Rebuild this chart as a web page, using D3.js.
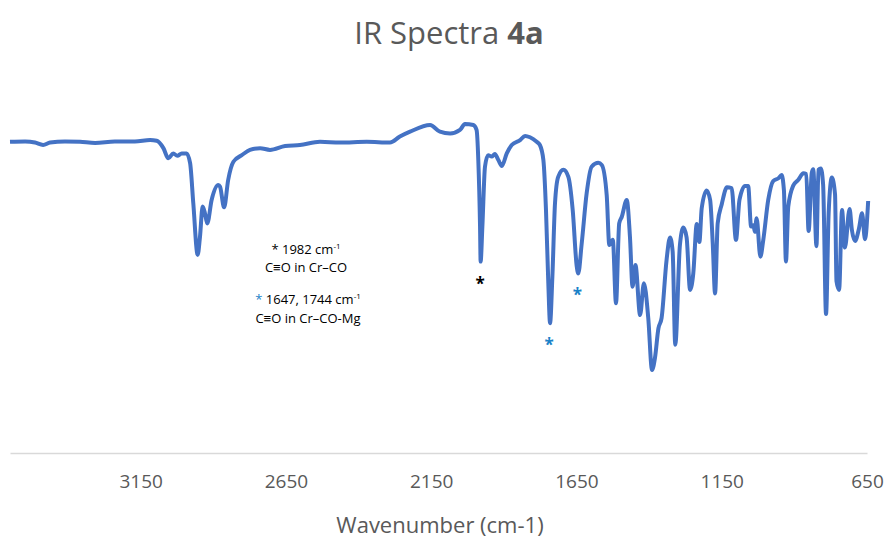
<!DOCTYPE html>
<html>
<head>
<meta charset="utf-8"/>
<title>IR Spectra 4a</title>
<script src="https://cdn.jsdelivr.net/npm/d3@7"></script>
<style>
html, body {
    margin: 0;
    padding: 0;
    background: #ffffff;
}
svg text {
    font-family: "Open Sans", "Noto Sans", sans-serif;
}
</style>
</head>
<body>

<svg id="chart"></svg>

<script>

// Spectrum: wavenumber (cm-1) and transmittance (arb. %)
var wavenumber = [
    3600, 3548, 3514, 3486, 3462, 3411, 3359, 3307, 3239, 3170,
    3118, 3095, 3072, 3055, 3038, 3024, 3009, 2992, 2980, 2969,
    2954, 2946, 2937, 2929, 2921, 2906, 2883, 2877, 2863, 2849,
    2831, 2802, 2774, 2739, 2705, 2653, 2602, 2533, 2464, 2372,
    2292, 2258, 2223, 2154, 2120, 2085, 2051, 2034, 2005, 1994,
    1988, 1982, 1980, 1974, 1965, 1954, 1942, 1931, 1919, 1907,
    1890, 1873, 1844, 1827, 1810, 1787, 1776, 1764, 1755, 1747,
    1741, 1733, 1724, 1713, 1695, 1678, 1663, 1649, 1644, 1632,
    1615, 1598, 1575, 1563, 1546, 1537, 1525, 1514, 1503, 1494,
    1477, 1466, 1457, 1447, 1431, 1418, 1403, 1390, 1380, 1368,
    1357, 1340, 1328, 1319, 1310, 1294, 1282, 1271, 1259, 1248,
    1236, 1227, 1219, 1202, 1190, 1181, 1173, 1164, 1150, 1132,
    1116, 1101, 1089, 1070, 1059, 1049, 1041, 1036, 1030, 1017,
    1007, 990, 973, 955, 944, 936, 929, 921, 904, 887,
    869, 859, 851, 840, 835, 824, 817, 809, 801, 791,
    782, 771, 760, 755, 746, 736, 726, 710, 702, 691,
    678, 667, 657, 646
];
var transmittance = [
    88.9, 89.0, 88.7, 88.0, 88.7, 89.0, 88.9, 88.6, 89.0, 89.0,
    89.4, 89.2, 87.1, 84.2, 85.6, 84.9, 85.6, 85.6, 82.8, 71.3,
    56.6, 61.8, 70.4, 68.5, 65.6, 72.3, 76.6, 76.1, 70.2, 78.0,
    83.2, 85.1, 86.6, 87.1, 86.6, 87.7, 88.0, 88.9, 88.7, 88.9,
    88.7, 90.4, 91.8, 93.7, 91.8, 91.3, 92.3, 94.0, 93.7, 92.3,
    83.7, 64.7, 54.7, 64.7, 81.8, 85.1, 84.7, 85.4, 83.7, 82.0,
    85.6, 88.0, 89.4, 90.6, 90.2, 88.9, 88.0, 83.7, 69.4, 48.5,
    37.1, 50.4, 71.3, 78.9, 80.9, 78.9, 69.4, 53.2, 51.3, 59.9,
    74.2, 81.8, 82.9, 82.3, 73.7, 59.4, 60.9, 42.8, 65.6, 67.5,
    72.3, 61.8, 47.5, 53.7, 39.4, 48.5, 38.6, 23.7, 27.1, 35.6,
    38.6, 55.1, 61.6, 57.6, 30.9, 59.4, 64.4, 61.6, 46.6, 51.3,
    65.4, 60.3, 69.9, 75.0, 72.3, 59.9, 45.6, 65.6, 71.1, 75.9,
    75.7, 60.9, 72.3, 76.3, 76.3, 64.7, 65.1, 63.2, 67.1, 56.1,
    60.9, 72.3, 77.7, 78.5, 79.4, 75.1, 54.7, 70.4, 76.4, 78.0,
    79.9, 79.7, 63.4, 80.1, 81.1, 59.1, 80.9, 81.3, 76.6, 39.7,
    68.6, 78.7, 73.9, 49.1, 46.6, 69.4, 58.7, 69.7, 63.7, 60.6,
    64.0, 68.5, 61.1, 72.0
];

var xTicks = [3150, 2650, 2150, 1650, 1150, 650];

// Marked carbonyl bands
var blackMarks = [1982];
var blueMarks = [1744, 1647];

const width = 891;
const height = 539;

var svg = d3.select("#chart")
    .attr("width", width)
    .attr("height", height);

// Scales (wavenumber runs right to left).
var x = d3.scaleLinear().domain([3600, 650]).range([10, 867]);
var y = d3.scaleLinear().domain([0, 100]).range([453, 103]);

var points = wavenumber.map(function(w, i) { return [w, transmittance[i]]; });

// Title
var title = svg.append("text")
    .attr("x", 449)
    .attr("y", 44)
    .attr("text-anchor", "middle")
    .style("font-size", "31px")
    .style("fill", "#595959");
title.append("tspan").text("IR Spectra ");
title.append("tspan").style("font-weight", "bold").text("4a");

// Bottom axis: line only, no tick marks.
var xAxis = svg.append("g")
    .attr("transform", "translate(0,453)")
    .call(d3.axisBottom(x).tickValues(xTicks).tickSize(0).tickPadding(22).tickFormat(d3.format("d")));
xAxis.select(".domain").attr("stroke", "#d9d9d9").attr("stroke-width", 1.5);
xAxis.selectAll("text")
    .style("font-size", "19px")
    .style("fill", "#595959")
    .style("font-family", "'Open Sans', sans-serif");

svg.append("text")
    .attr("x", 440)
    .attr("y", 533)
    .attr("text-anchor", "middle")
    .style("font-size", "22px")
    .style("fill", "#595959")
    .text("Wavenumber (cm-1)");

// Spectrum line
var line = d3.line()
    .x(function(d) { return x(d[0]); })
    .y(function(d) { return y(d[1]); })
    .curve(d3.curveMonotoneX);

svg.append("path")
    .attr("d", line(points))
    .attr("fill", "none")
    .attr("stroke", "#4472C4")
    .attr("stroke-width", 4)
    .attr("stroke-linejoin", "round");

// Asterisks under the marked minima
function minAt(w) {
    var best = 0;
    for (let i = 0; i < wavenumber.length; i++) {
        if (Math.abs(wavenumber[i] - w) < Math.abs(wavenumber[best] - w)) best = i;
    }
    // lowest value close to w
    var lo = transmittance[best];
    for (let i = Math.max(0, best - 2); i <= Math.min(wavenumber.length - 1, best + 2); i++) {
        lo = Math.min(lo, transmittance[i]);
    }
    return lo;
}

function addMarks(list, color) {
    svg.selectAll(null)
        .data(list)
        .enter().append("text")
        .attr("x", function(d) { return x(d); })
        .attr("y", function(d) { return y(minAt(d)) + 28; })
        .attr("text-anchor", "middle")
        .style("font-size", "17px")
        .style("font-weight", "bold")
        .style("fill", color)
        .text("*");
}
addMarks(blackMarks, "#000000");
addMarks(blueMarks, "#1a82c8");

// Legend notes
var notes = svg.append("g").style("font-size", "13px").style("fill", "#000");

var n1 = notes.append("text").attr("x", 306).attr("y", 254).attr("text-anchor", "middle");
n1.append("tspan").text("* 1982 cm");
n1.append("tspan").attr("dy", -5).style("font-size", "8px").text("-1");

notes.append("text").attr("x", 306).attr("y", 272).attr("text-anchor", "middle").text("C\u2261O in Cr\u2013CO");

var n3 = notes.append("text").attr("x", 308).attr("y", 304).attr("text-anchor", "middle");
n3.append("tspan").style("fill", "#1a82c8").text("*");
n3.append("tspan").text(" 1647, 1744 cm");
n3.append("tspan").attr("dy", -5).style("font-size", "8px").text("-1");

notes.append("text").attr("x", 308).attr("y", 323).attr("text-anchor", "middle").text("C\u2261O in Cr\u2013CO-Mg");

</script>

</body>
</html>
